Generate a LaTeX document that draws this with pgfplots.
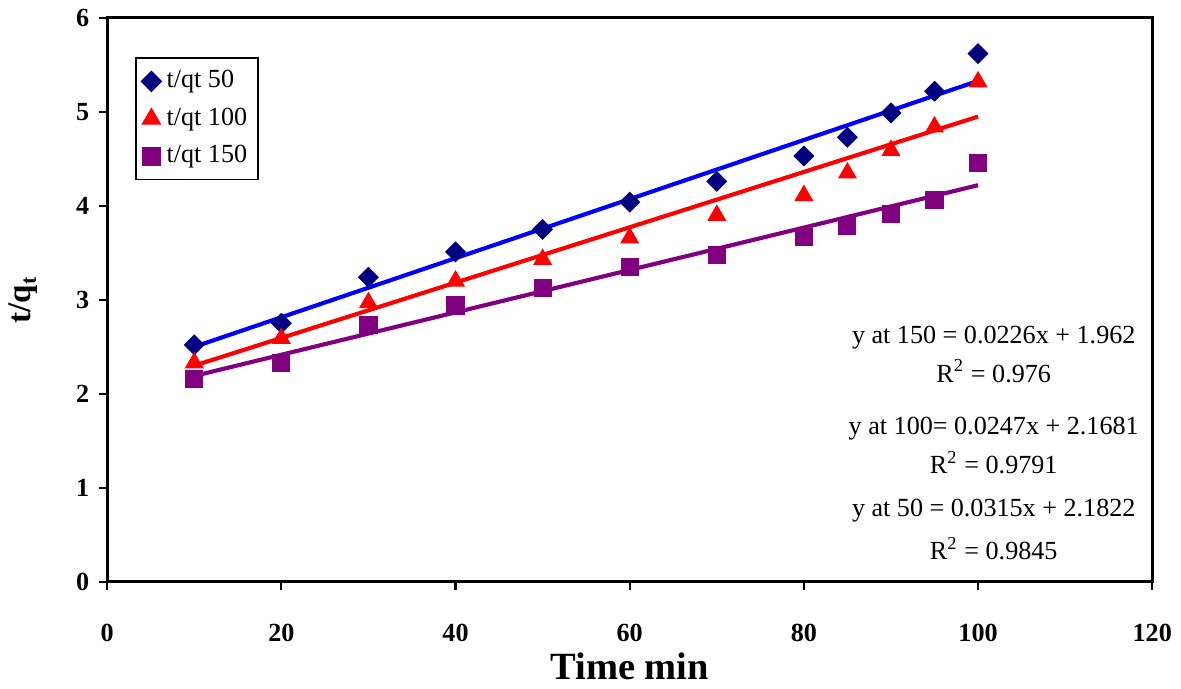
\documentclass[border=0pt]{standalone}
\usepackage{fontspec}
\setmainfont{Liberation Serif}
\usepackage{pgfplots}
\pgfplotsset{compat=1.18}
\definecolor{navymark}{RGB}{0,0,128}
\definecolor{fitblue}{RGB}{0,0,255}
\definecolor{purp}{RGB}{128,0,128}

\pgfplotstableread{
t   y50   y100  y150
10  2.52  2.33  2.16
20  2.75  2.59  2.33
30  3.24  2.97  2.73
40  3.51  3.20  2.94
50  3.75  3.43  3.13
60  4.04  3.66  3.35
70  4.26  3.90  3.48
80  4.53  4.11  3.67
85  4.73  4.35  3.79
90  4.99  4.59  3.91
95  5.22  4.84  4.06
100 5.62  5.32  4.46
}\kinetics

\begin{document}
\begin{tikzpicture}
\begin{axis}[
  width=380pt, height=205pt, scale only axis,
  xmin=0, xmax=120, ymin=0, ymax=6,
  xtick={0,20,...,120}, ytick={0,1,...,6},
  xtick pos=bottom, ytick pos=left,
  tick align=outside, major tick length=3pt,
  axis line style={line width=1.1pt},
  tick style={black, line width=0.8pt},
  tick label style={font=\fontsize{9.5}{10}\selectfont\bfseries},
  /pgf/number format/assume math mode=true,
  xticklabel style={yshift=-9pt},
  xlabel={Time min}, ylabel={t/q\textsubscript{t}},
  every axis x label/.style={at={(axis description cs:0.5,-0.15)}, anchor=center,
    font=\fontsize{14}{15}\selectfont\bfseries},
  every axis y label/.style={at={(axis description cs:-0.08,0.5)}, anchor=center, rotate=90,
    font=\fontsize{12}{13}\selectfont\bfseries},
  legend style={at={(rel axis cs:0.027,0.93)}, anchor=north west, draw=black,
    line width=0.6pt, font=\fontsize{9.5}{11}\selectfont, row sep=1.8pt,
    inner xsep=2pt, inner ysep=2.5pt, cells={anchor=west}},
  clip=false,
]
\addplot[only marks, mark=square*, mark size=2.5pt, mark options={rotate=45}, color=navymark] table[x=t, y=y50] {\kinetics};
\addlegendentry{t/qt 50}
\addplot[only marks, mark=triangle*, mark size=3.6pt, color=red] table[x=t, y=y100] {\kinetics};
\addlegendentry{t/qt 100}
\addplot[only marks, mark=square*, mark size=3.1pt, color=purp] table[x=t, y=y150] {\kinetics};
\addlegendentry{t/qt 150}

% trend lines as drawn in the source
\addplot[fitblue, line width=1.5pt, forget plot] coordinates {(10,2.50) (100,5.33)};
\addplot[red, line width=1.5pt, forget plot] coordinates {(10,2.30) (100,4.95)};
\addplot[purp, line width=1.5pt, forget plot] coordinates {(10,2.19) (100,4.22)};

\begin{scope}[every node/.style={font=\fontsize{9.5}{10}\selectfont, anchor=center}]
\node at (axis cs:101.8,2.60) {y at 150 = 0.0226x + 1.962};
\node at (axis cs:101.8,2.24) {R\textsuperscript{2} = 0.976};
\node at (axis cs:101.8,1.63) {y at 100= 0.0247x + 2.1681};
\node at (axis cs:101.8,1.27) {R\textsuperscript{2} = 0.9791};
\node at (axis cs:101.8,0.76) {y at 50 = 0.0315x + 2.1822};
\node at (axis cs:101.8,0.35) {R\textsuperscript{2} = 0.9845};
\end{scope}
\end{axis}
\end{tikzpicture}
\end{document}
